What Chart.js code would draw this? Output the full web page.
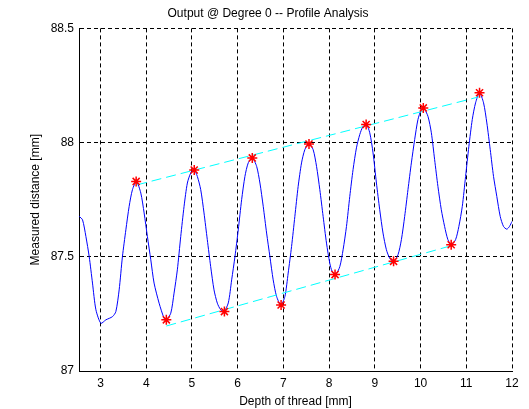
<!DOCTYPE html>
<html>
<head>
<meta charset="utf-8">
<title>Profile Analysis</title>
<script src="https://cdn.jsdelivr.net/npm/chart.js@4"></script>
<style>
  body { margin: 0; background: #fff; }
  #wrap { width: 529px; height: 409px; }
</style>
</head>
<body>
<div id="wrap"><canvas id="chart1" width="529" height="409"></canvas></div>
<script>
// measured profile
const curveX = [2.535, 2.607, 2.681, 2.753, 2.825, 2.900, 3.009, 3.118, 3.262, 3.336,
  3.408, 3.480, 3.555, 3.627, 3.699, 3.786, 3.882, 3.954, 4.026, 4.100,
  4.172, 4.282, 4.391, 4.441, 4.537, 4.609, 4.681, 4.755, 4.828, 4.900,
  4.974, 5.046, 5.118, 5.192, 5.264, 5.336, 5.410, 5.483, 5.555, 5.629,
  5.701, 5.795, 5.869, 5.941, 6.013, 6.087, 6.159, 6.231, 6.319, 6.415,
  6.487, 6.559, 6.633, 6.705, 6.777, 6.852, 6.946, 7.033, 7.105, 7.179,
  7.251, 7.323, 7.397, 7.469, 7.557, 7.651, 7.725, 7.797, 7.869, 7.943,
  8.015, 8.066, 8.140, 8.234, 8.306, 8.380, 8.452, 8.524, 8.598, 8.670,
  8.742, 8.817, 8.889, 8.961, 9.035, 9.107, 9.179, 9.253, 9.325, 9.413,
  9.507, 9.581, 9.653, 9.725, 9.799, 9.871, 9.943, 10.017, 10.068, 10.162,
  10.236, 10.308, 10.380, 10.454, 10.526, 10.598, 10.672, 10.766, 10.838, 10.913,
  10.985, 11.057, 11.131, 11.203, 11.290, 11.378, 11.450, 11.524, 11.596, 11.668,
  11.742, 11.814, 11.886, 11.945, 12.000];
const curveY = [87.677, 87.662, 87.589, 87.501, 87.385, 87.268, 87.209, 87.224, 87.238, 87.260,
  87.355, 87.501, 87.618, 87.721, 87.794, 87.830, 87.779, 87.692, 87.589, 87.487,
  87.385, 87.297, 87.231, 87.224, 87.253, 87.341, 87.443, 87.589, 87.721, 87.823,
  87.867, 87.882, 87.852, 87.794, 87.692, 87.575, 87.457, 87.355, 87.297, 87.268,
  87.260, 87.298, 87.399, 87.501, 87.618, 87.750, 87.852, 87.911, 87.933, 87.896,
  87.823, 87.721, 87.604, 87.501, 87.399, 87.326, 87.289, 87.326, 87.429, 87.545,
  87.677, 87.808, 87.911, 87.969, 87.996, 87.969, 87.896, 87.794, 87.677, 87.560,
  87.472, 87.436, 87.421, 87.457, 87.531, 87.633, 87.764, 87.882, 87.977, 88.035,
  88.071, 88.079, 88.043, 87.955, 87.823, 87.706, 87.604, 87.531, 87.494, 87.479,
  87.509, 87.575, 87.677, 87.794, 87.911, 88.013, 88.101, 88.145, 88.152, 88.115,
  88.043, 87.925, 87.808, 87.706, 87.633, 87.575, 87.553, 87.575, 87.633, 87.721,
  87.852, 87.984, 88.101, 88.174, 88.218, 88.174, 88.086, 87.969, 87.852, 87.764,
  87.677, 87.633, 87.621, 87.633, 87.655];

// detected peaks / valleys
const peakX = [3.78, 5.05, 6.32, 7.56, 8.81, 10.06, 11.29];
const peakY = [87.830, 87.880, 87.933, 87.994, 88.079, 88.152, 88.218];
const troughX = [4.44, 5.71, 6.95, 8.13, 9.41, 10.67];
const troughY = [87.224, 87.260, 87.289, 87.422, 87.480, 87.553];

// fitted envelope lines
const upperFitX = [3.80, 11.27];
const upperFitY = [87.815, 88.200];
const lowerFitX = [4.44, 10.66];
const lowerFitY = [87.197, 87.548];

const xTicks = [3, 4, 5, 6, 7, 8, 9, 10, 11, 12];
const yTicks = [87, 87.5, 88, 88.5];

function pts(xs, ys) {
  return xs.map((x, i) => ({ x: x, y: ys[i] }));
}

const FONT = "'Liberation Sans', Arial, sans-serif";
Chart.defaults.font.family = FONT;
Chart.defaults.font.size = 12;
Chart.defaults.color = "#000";

var canvas1 = document.getElementById("chart1");
var chart1 = new Chart(canvas1, {
  type: "line",
  data: {
    datasets: [
      {
        label: "peaks",
        data: pts(peakX, peakY),
        showLine: false,
        pointStyle: "star",
        pointRadius: 5,
        pointBorderWidth: 1.5,
        pointBorderColor: "#ff0000",
        pointBackgroundColor: "#ff0000",
      },
      {
        label: "valleys",
        data: pts(troughX, troughY),
        showLine: false,
        pointStyle: "star",
        pointRadius: 5,
        pointBorderWidth: 1.5,
        pointBorderColor: "#ff0000",
        pointBackgroundColor: "#ff0000",
      },
      {
        label: "upper",
        data: pts(upperFitX, upperFitY),
        borderColor: "#00ffff",
        borderWidth: 1,
        borderDash: [10, 5],
        pointRadius: 0,
      },
      {
        label: "lower",
        data: pts(lowerFitX, lowerFitY),
        borderColor: "#00ffff",
        borderWidth: 1,
        borderDash: [10, 5],
        pointRadius: 0,
      },
      {
        label: "profile",
        data: pts(curveX, curveY),
        borderColor: "#0000ff",
        borderWidth: 1,
        tension: 0.25,
        pointRadius: 0,
      },
    ],
  },
  options: {
    responsive: false,
    animation: false,
    devicePixelRatio: 1,
    layout: { padding: { left: 24, right: 17, top: 0, bottom: 0 } },
    plugins: {
      legend: { display: false },
      tooltip: { enabled: false },
      title: {
        display: true,
        text: "Output @ Degree 0 -- Profile Analysis",
        font: { size: 12, weight: "normal" },
        color: "#000",
        padding: { top: 6, bottom: 8 },
      },
    },
    scales: {
      x: {
        type: "linear",
        min: 2.53,
        max: 12,
        afterBuildTicks: (s) => { s.ticks = xTicks.map((v) => ({ value: v })); },
        afterFit: (s) => { s.height = 38; },
        ticks: { padding: 5, maxRotation: 0, callback: (v) => String(v) },
        grid: { color: "#000", drawTicks: false, lineWidth: 1 },
        border: { display: true, color: "#000", width: 1, dash: [4, 3] },
        title: {
          display: true,
          text: "Depth of thread [mm]",
          padding: { top: 4, bottom: 0 },
        },
      },
      y: {
        type: "linear",
        min: 87,
        max: 88.5,
        afterBuildTicks: (s) => { s.ticks = yTicks.map((v) => ({ value: v })); },
        afterFit: (s) => { s.width = 55; },
        ticks: { padding: 5, callback: (v) => String(v) },
        grid: { color: "#000", drawTicks: false, lineWidth: 1 },
        border: { display: true, color: "#000", width: 1, dash: [4, 3] },
        title: {
          display: true,
          text: "Measured distance [mm]",
          padding: { top: 4, bottom: 4 },
        },
      },
    },
  },
});
</script>
</body>
</html>
